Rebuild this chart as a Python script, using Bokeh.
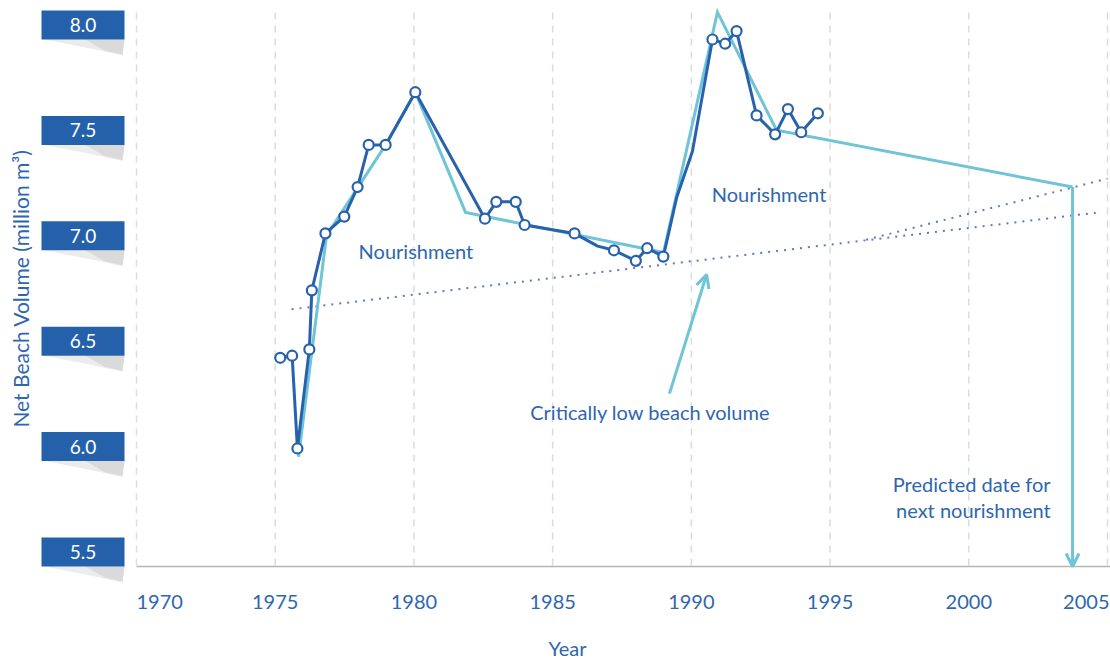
import math
from bokeh.plotting import figure
from bokeh.models import Range1d, Arrow, OpenHead
from bokeh.core.properties import value
from bokeh.embed import file_html
from bokeh.resources import INLINE

# ---------------- data ----------------
x_ticks = [1970, 1975, 1980, 1985, 1990, 1995, 2000, 2005]
x_tick_labels = ["1970", "1975", "1980", "1985", "1990", "1995", "2000", "2005"]
y_ticks = [5.5, 6.0, 6.5, 7.0, 7.5, 8.0]
y_tick_labels = ["5.5", "6.0", "6.5", "7.0", "7.5", "8.0"]

# measured net beach volume (million m3)
dark_years = [1975.18, 1975.61, 1975.80, 1976.23, 1976.32, 1976.81, 1977.49, 1977.97,
              1978.37, 1978.98, 1980.05, 1982.56, 1982.97, 1983.67, 1983.99, 1985.79,
              1986.62, 1987.21, 1988.00, 1988.41, 1988.99, 1989.47, 1990.04, 1990.76,
              1991.22, 1991.63, 1992.35, 1993.02, 1993.48, 1993.96, 1994.56]
dark_vals = [6.49, 6.50, 6.06, 6.53, 6.81, 7.08, 7.16, 7.30,
             7.50, 7.50, 7.75, 7.15, 7.23, 7.23, 7.12, 7.08,
             7.02, 7.00, 6.95, 7.01, 6.97, 7.25, 7.47, 8.00,
             7.98, 8.04, 7.64, 7.55, 7.67, 7.56, 7.65]
dark_marked = [1, 1, 1, 1, 1, 1, 1, 1, 1, 1, 1, 1, 1, 1, 1, 1,
               0, 1, 1, 1, 1, 0, 0, 1, 1, 1, 1, 1, 1, 1, 1]

# schematic line
cyan_years = [1975.84, 1976.85, 1978.98, 1980.05, 1981.86, 1989.00, 1990.94, 1993.07, 2003.74]
cyan_vals = [6.02, 7.07, 7.50, 7.75, 7.18, 6.99, 8.13, 7.57, 7.30]

# critically low volume trend lines
trend1_years = [1975.59, 2004.68]
trend1_vals = [6.72, 7.18]
trend2_years = [1996.30, 2005.00]
trend2_vals = [7.05, 7.34]

# arrow "critically low beach volume"
low_arrow_years = [1989.21, 1990.55]
low_arrow_vals = [6.32, 6.885]

# annotation texts
ann_x = [1980.07, 1992.80, 1988.53]
ann_y = [6.999, 7.265, 6.235]
ann_t = ["Nourishment", "Nourishment", "Critically low beach volume"]
pred_t = ["Predicted date for", "next nourishment"]

# ---------------- style / layout ----------------
BOX = "#2461aa"
DARK = "#2862ad"
CYAN = "#6fc4d6"
DOT = "#6877bd"
TEXT = "#2f66b0"
GRID = "#dcdcdc"
AXIS = "#b5b5b5"
FONT = "Lato"

W, H = 1110, 661
SX = 971 / 35.0            # px per year
SY = 210.8                 # px per million m3
X0 = 1970 - 136 / SX
X1 = X0 + W / SX
Y0 = 5.5 - (H - 566) / SY
Y1 = Y0 + H / SY


def px_x(px):
    return X0 + px / SX


def px_y(py):
    return Y1 - py / SY


p = figure(width=W, height=H, x_range=Range1d(X0, X1), y_range=Range1d(Y0, Y1),
           x_axis_location=None, y_axis_location=None,
           min_border=0, min_border_left=0, min_border_right=0,
           min_border_top=0, min_border_bottom=0,
           toolbar_location=None, output_backend="svg", outline_line_color=None)
p.grid.visible = False

# vertical dashed grid lines
p.segment(x0=x_ticks, y0=[px_y(12)] * len(x_ticks), x1=x_ticks, y1=[y_ticks[0]] * len(x_ticks),
          line_color=GRID, line_width=1.5, line_dash="7 6")

# x axis line
p.segment(x0=[x_ticks[0]], y0=[y_ticks[0]], x1=[px_x(1110)], y1=[y_ticks[0]],
          line_color=AXIS, line_width=1.5)

# x tick labels
mid_x = x_ticks[1:-1]
p.text(mid_x, [px_y(601)] * len(mid_x), text=x_tick_labels[1:-1], text_color=TEXT,
       text_font=value(FONT), text_font_size="20px", text_align="center", text_baseline="middle")
p.text([x_ticks[0]], [px_y(601)], text=[x_tick_labels[0]], text_color=TEXT,
       text_font=value(FONT), text_font_size="20px", text_align="left", text_baseline="middle")
p.text([px_x(1109)], [px_y(601)], text=[x_tick_labels[-1]], text_color=TEXT,
       text_font=value(FONT), text_font_size="20px", text_align="right", text_baseline="middle")
p.text([px_x(567)], [px_y(647)], text=["Year"], text_color=TEXT,
       text_font=value(FONT), text_font_size="20px", text_align="center", text_baseline="middle")

# y axis boxes with shadow
u = 1 / SY
for t in y_ticks:
    p.patch([px_x(44), px_x(124), px_x(122), px_x(90)], [t, t, t - 16 * u, t - 9 * u],
            fill_color="#ececec", line_color=None)
    p.patch([px_x(85), px_x(124), px_x(122), px_x(104)], [t, t, t - 15 * u, t - 11 * u],
            fill_color="#d6d6d6", line_color=None, fill_alpha=0.8)
bh = 29 * u
p.quad(left=[px_x(41)] * len(y_ticks), right=[px_x(124)] * len(y_ticks),
       bottom=y_ticks, top=[t + bh for t in y_ticks], fill_color=BOX, line_color=None)
p.text([px_x(82.5)] * len(y_ticks), [t + bh / 2 for t in y_ticks], text=y_tick_labels,
       text_color="white", text_font=value(FONT), text_font_size="19px",
       text_align="center", text_baseline="middle")
p.text([px_x(20)], [px_y(288)], text=["Net Beach Volume (million m³)"], angle=math.pi / 2,
       text_color=TEXT, text_font=value(FONT), text_font_size="21px",
       text_align="center", text_baseline="middle")

# trend dotted lines
p.line(trend1_years, trend1_vals, line_color=DOT, line_width=2, line_dash="2 6")
p.line(trend2_years, trend2_vals, line_color=DOT, line_width=2, line_dash="2 6")

# cyan schematic line + arrows
p.line(cyan_years, cyan_vals, line_color=CYAN, line_width=3, line_join="miter")
p.add_layout(Arrow(end=OpenHead(size=13, line_color=CYAN, line_width=3),
                   x_start=cyan_years[-1], y_start=cyan_vals[-1],
                   x_end=cyan_years[-1], y_end=y_ticks[0],
                   line_color=CYAN, line_width=3))
p.add_layout(Arrow(end=OpenHead(size=13, line_color=CYAN, line_width=3),
                   x_start=low_arrow_years[0], y_start=low_arrow_vals[0],
                   x_end=low_arrow_years[1], y_end=low_arrow_vals[1],
                   line_color=CYAN, line_width=3))

# measured line
p.line(dark_years, dark_vals, line_color=DARK, line_width=3, line_join="round")
mx = [x for x, m in zip(dark_years, dark_marked) if m]
my = [y for y, m in zip(dark_vals, dark_marked) if m]
p.scatter(mx, my, size=10, fill_color="white", line_color=DARK, line_width=2.2)

# annotation texts
p.text(ann_x, ann_y, text=ann_t, text_color=TEXT, text_font=value(FONT),
       text_font_size="20px", text_align="center", text_baseline="middle")
p.text([2002.95, 2002.95], [5.889, 5.766], text=pred_t,
       text_color=TEXT, text_font=value(FONT), text_font_size="20px",
       text_align="right", text_baseline="middle")

open("out.html", "w").write(file_html(p, INLINE))
